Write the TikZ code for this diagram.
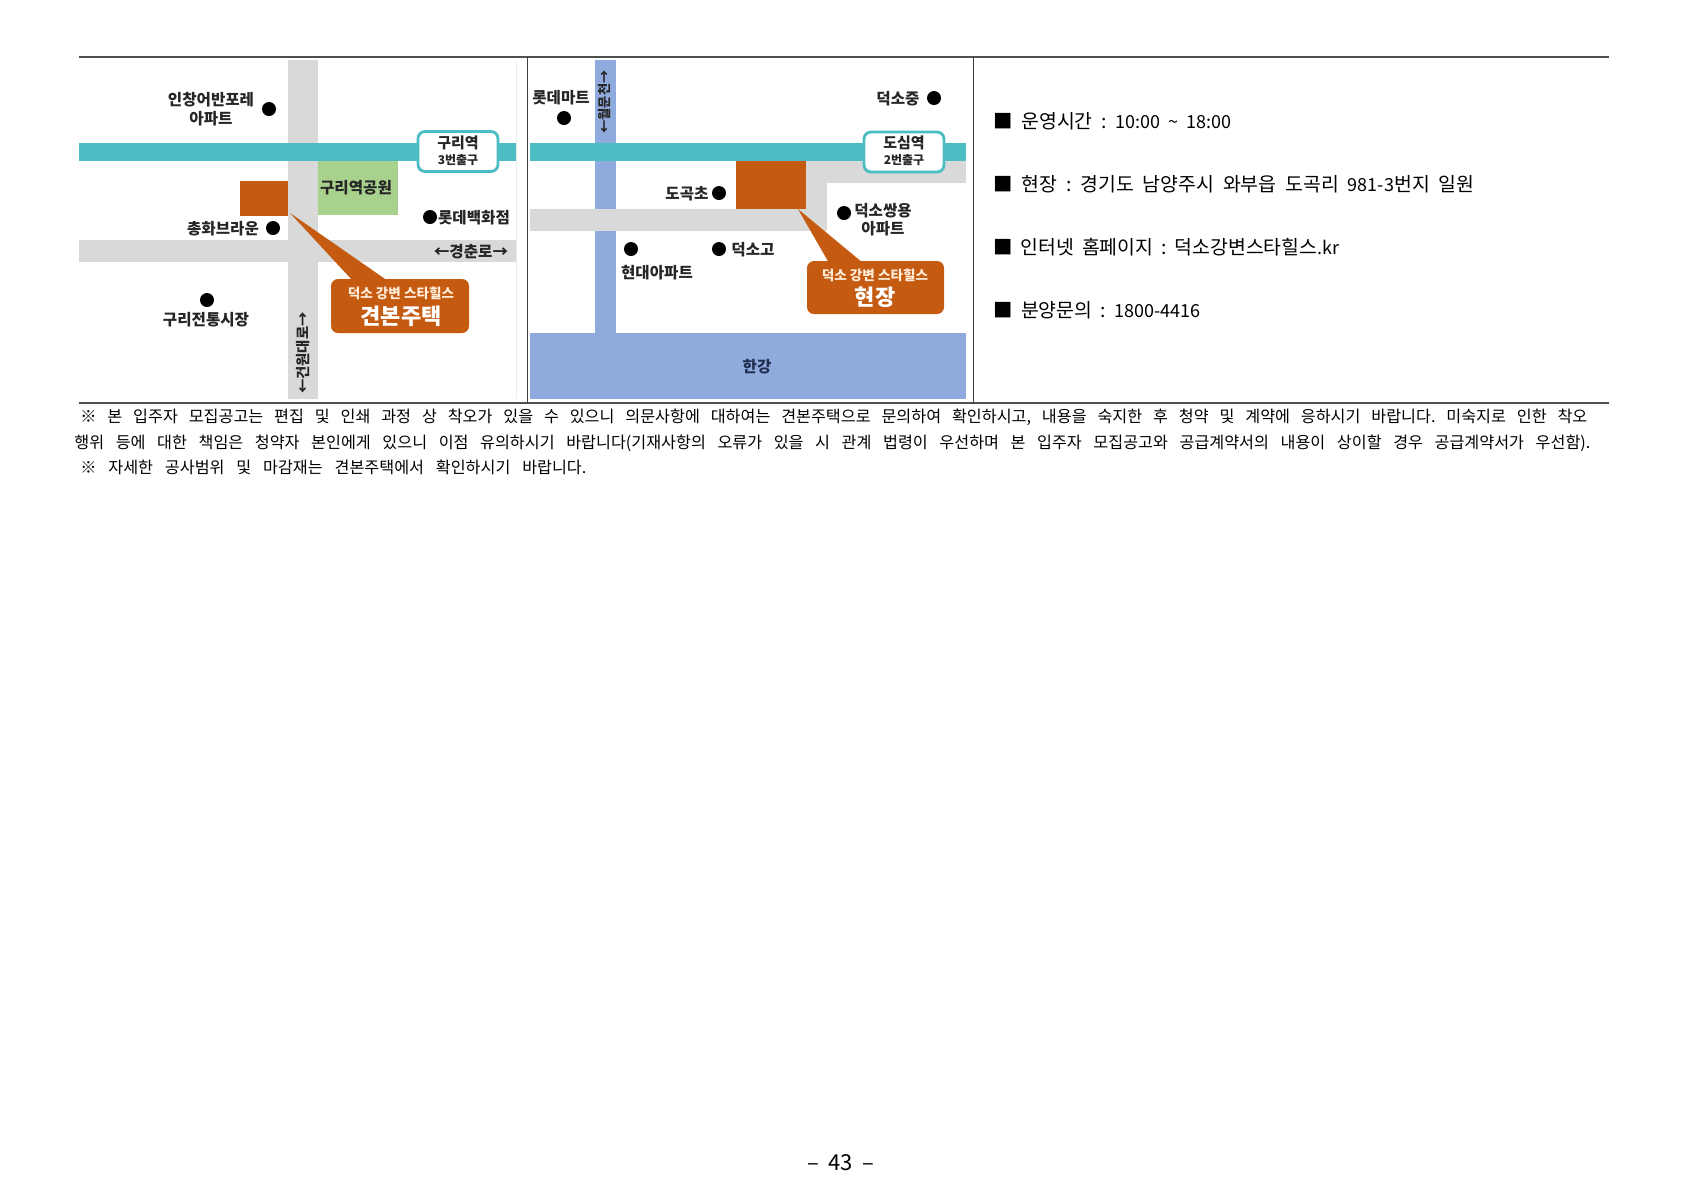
\documentclass[tikz,border=0pt]{standalone}
\usepackage{fontspec}
\setmainfont{Noto Sans CJK KR}
\usepackage{xcolor}
\definecolor{railteal}{HTML}{4CBDC3}
\definecolor{roadgrey}{HTML}{D9D9D9}
\definecolor{siteorange}{HTML}{C55A11}
\definecolor{parkgreen}{HTML}{A9D18E}
\definecolor{riverblue}{HTML}{8FAADC}
\definecolor{rivertext}{HTML}{1F2F4F}
\definecolor{ruledark}{HTML}{505050}
\newcommand{\fitline}[2]{\makebox[#1][s]{\frenchspacing #2}}
\newcommand{\latn}[1]{{\fontsize{9}{10}\selectfont #1}}
\tikzstyle{maplabel} = [inner sep=0pt,yshift=-0.4pt,align=center,text=black!85,font=\fontsize{7.8}{9.2}\selectfont\bfseries]
\tikzstyle{roadname} = [inner sep=0pt,rotate=90,text=black!85,font=\fontsize{7.2}{9}\selectfont\bfseries]
\tikzstyle{spot} = [circle,fill=black,minimum size=7pt,inner sep=0pt]
\tikzstyle{station} = [draw=railteal,line width=1.4pt,fill=white,rounded corners=3.5pt,minimum width=40pt,minimum height=20pt,inner sep=0pt]
\tikzstyle{stationname} = [inner sep=0pt,text=black!85,font=\fontsize{7.5}{8}\selectfont\bfseries]
\tikzstyle{stationexit} = [inner sep=0pt,text=black!85,font=\fontsize{6}{7}\selectfont\bfseries]
\tikzstyle{callout} = [fill=siteorange,rounded corners=3.5pt,minimum height=0pt,inner sep=0pt]
\tikzstyle{calloutsmall} = [inner sep=0pt,text=orange!15,font=\fontsize{6.8}{8}\selectfont\bfseries]
\tikzstyle{calloutbig} = [inner sep=0pt,text=white,font=\fontsize{11}{12}\selectfont\bfseries]
\tikzstyle{infoline} = [anchor=west,inner sep=0pt,font=\fontsize{9.7}{11}\selectfont]
\tikzstyle{noteline} = [anchor=west,inner sep=0pt,font=\fontsize{8.1}{10}\selectfont]
\tikzstyle{rule} = [draw=ruledark,line width=0.6pt]
\tikzstyle{cellrule} = [draw=ruledark!80!black,line width=0.45pt]
\begin{document}
\begin{tikzpicture}[x=0.5pt,y=-0.5pt]
    \useasboundingbox (0,0) rectangle (1682,1190);

    % left map
    \fill[roadgrey] (288,60) rectangle (318,399);
    \fill[roadgrey] (79,240) rectangle (516,262);
    \fill[railteal] (79,143) rectangle (516,161);
    \fill[parkgreen] (318,161) rectangle (398,215);
    \fill[siteorange] (240,181) rectangle (288,216);
    \draw[black!8,line width=0.3pt] (516,60) -- (516,399);
    \node[station] at (458,151.5) (stationL) {};
    \node[stationname] at (458,143) (stationLname) {구리역};
    \node[stationexit] at (458,160) (stationLexit) {3번출구};
    \node[maplabel] at (356,187) (park) {구리역공원};
    \node[maplabel] at (211,99) (aptA) {인창어반포레};
    \node[maplabel] at (211,118) (aptB) {아파트};
    \node[maplabel] at (223,228) (brown) {총화브라운};
    \node[maplabel] at (474,217) (lotteDept) {롯데백화점};
    \node[maplabel] at (471,251) (roadH) {←경춘로→};
    \node[maplabel] at (206,319) (market) {구리전통시장};
    \node[roadname] at (303,353) (roadV) {←건원대로→};
    \foreach \x/\y/\n in {269/109/a,273/228/b,430/217/c,207/300/d} {
        \node[spot] at (\x,\y) (spotL\n) {};
    }
    % callout of the left map
    \coordinate (tipL) at (290,213);
    \fill[siteorange] (tipL) -- (353,281) -- (388,281) -- cycle;
    \fill[callout] (331,279) rectangle (469,333);
    \node[calloutsmall] at (401,293) (brandL) {덕소 강변 스타힐스};
    \node[calloutbig] at (401,316) (houseL) {견본주택};

    % right map
    \fill[riverblue] (595,60) rectangle (616,333);
    \fill[riverblue] (530,333) rectangle (966,399);
    \fill[roadgrey] (530,209) rectangle (827,231);
    \fill[roadgrey] (806,161) rectangle (827,231);
    \fill[roadgrey] (806,161) rectangle (966,183);
    \fill[railteal] (530,143) rectangle (966,161);
    \fill[siteorange] (736,161) rectangle (806,209);
    \node[station] at (904,152) (stationR) {};
    \node[stationname] at (904,143) (stationRname) {도심역};
    \node[stationexit] at (904,160) (stationRexit) {2번출구};
    \node[maplabel] at (561,97) (lotteMart) {롯데마트};
    \node[roadname,font=\fontsize{6.6}{8}\selectfont\bfseries] at (605,102) (stream) {←월문천→};
    \node[maplabel] at (898,98) (middle) {덕소중};
    \node[maplabel] at (687,193) (primary) {도곡초};
    \node[maplabel] at (883,210) (ssangA) {덕소쌍용};
    \node[maplabel] at (883,228) (ssangB) {아파트};
    \node[maplabel] at (753,249) (high) {덕소고};
    \node[maplabel] at (657,272) (hyundai) {현대아파트};
    \node[maplabel,text=rivertext] at (757,366) (river) {한강};
    \foreach \x/\y/\n in {934/98/a,564/118/b,719/193/c,844/213/d,631/249/e,719/249/f} {
        \node[spot] at (\x,\y) (spotR\n) {};
    }
    % callout of the right map
    \coordinate (tipR) at (798,209);
    \fill[siteorange] (tipR) -- (829,263) -- (863,263) -- cycle;
    \fill[callout] (807,261) rectangle (944,314);
    \node[calloutsmall] at (875,275) (brandR) {덕소 강변 스타힐스};
    \node[calloutbig] at (875,297) (houseR) {현장};

    % table rules
    \draw[rule] (79,57) -- (1609,57);
    \draw[rule] (79,403) -- (1609,403);
    \draw[cellrule] (527,57) -- (527,403);
    \draw[cellrule] (973.5,57) -- (973.5,403);

    % info lines
    \node[infoline] at (993,121) (info1) {\fitline{119pt}{■ 운영시간 : \latn{10:00 \textasciitilde{} 18:00}}};
    \node[infoline] at (993,184) (info2) {\fitline{240.5pt}{■ 현장 : 경기도 남양주시 와부읍 도곡리 \latn{981-3}번지 일원}};
    \node[infoline] at (993,247) (info3) {\fitline{173pt}{■ 인터넷 홈페이지 : 덕소강변스타힐스\latn{.kr}}};
    \node[infoline] at (993,310) (info4) {\fitline{103.5pt}{■ 분양문의 : \latn{1800-4416}}};

    % notes under the table
    \node[noteline] at (80,417) (note1) {\fitline{753.5pt}{※ 본 입주자 모집공고는 편집 및 인쇄 과정 상 착오가 있을 수 있으니 의문사항에 대하여는 견본주택으로 문의하여 확인하시고, 내용을 숙지한 후 청약 및 계약에 응하시기 바랍니다. 미숙지로 인한 착오}};
    \node[noteline] at (74,443) (note2) {\fitline{758pt}{행위 등에 대한 책임은 청약자 본인에게 있으니 이점 유의하시기 바랍니다(기재사항의 오류가 있을 시 관계 법령이 우선하며 본 입주자 모집공고와 공급계약서의 내용이 상이할 경우 공급계약서가 우선함).}};
    \node[noteline] at (80,467) (note3) {\fitline{253pt}{※ 자세한 공사범위 및 마감재는 견본주택에서 확인하시기 바랍니다.}};

    \node[inner sep=0pt,font=\fontsize{11}{12}\selectfont] at (841,1163) (page) {\fitline{33.5pt}{– 43 –}};
\end{tikzpicture}
\end{document}
